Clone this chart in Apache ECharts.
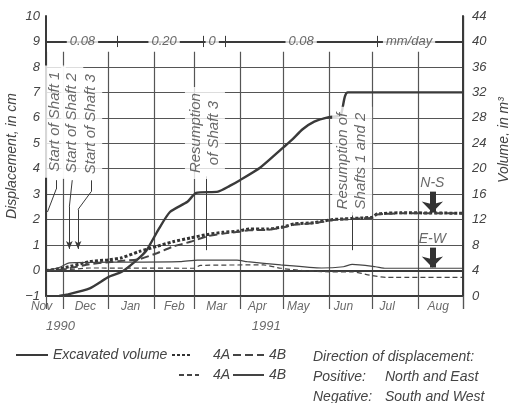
<!DOCTYPE html>
<html>
<head>
<meta charset="utf-8">
<style>
  html, body { margin: 0; padding: 0; background: #fff; }
  #chart { width: 509px; height: 403px; }
</style>
<script src="https://cdn.jsdelivr.net/npm/echarts@6/dist/echarts.min.js"></script>
</head>
<body>
<div id="chart"></div>
<script>
// excavated volume in m3 (right axis)
var volumeDates = ["1990-11-28", "1990-12-03", "1990-12-19", "1991-01-01", "1991-01-10", "1991-01-20", "1991-01-27",
  "1991-02-04", "1991-02-12", "1991-02-24", "1991-03-02", "1991-03-17", "1991-03-25", "1991-04-01", "1991-04-15",
  "1991-05-01", "1991-05-07", "1991-05-14", "1991-05-22", "1991-06-01", "1991-06-09", "1991-06-14", "1991-09-01"];
var volumeValues = [0, 0.2, 1.2, 3.0, 3.8, 5.6, 7.2, 10.4, 13.2, 14.8, 16.2, 16.4, 17.3, 18.2, 20.2,
  23.4, 24.6, 26.2, 27.4, 28.1, 28.4, 32.0, 32.0];

// displacement N-S, cm
var nsDates = ["1990-11-19", "1990-12-01", "1990-12-19", "1991-01-01", "1991-01-10", "1991-01-22", "1991-02-03",
  "1991-02-14", "1991-02-26", "1991-03-10", "1991-03-20", "1991-03-31", "1991-04-07", "1991-04-20", "1991-05-01",
  "1991-05-08", "1991-05-22", "1991-06-03", "1991-06-25", "1991-07-01", "1991-07-04", "1991-07-20", "1991-09-01"];
var ns4A = [0, 0.1, 0.35, 0.42, 0.5, 0.75, 0.95, 1.13, 1.28, 1.42, 1.5, 1.55, 1.63, 1.63, 1.72,
  1.83, 1.88, 2.0, 2.07, 2.1, 2.22, 2.27, 2.25];
var ns4B = [0, 0.05, 0.25, 0.33, 0.38, 0.45, 0.68, 0.94, 1.13, 1.35, 1.45, 1.52, 1.58, 1.6, 1.7,
  1.8, 1.86, 1.98, 2.05, 2.08, 2.2, 2.25, 2.25];

// displacement E-W, cm
var ew4ADates = ["1990-11-19", "1990-12-01", "1990-12-19", "1991-02-28", "1991-03-05", "1991-04-17", "1991-04-29",
  "1991-05-14", "1991-06-02", "1991-06-17", "1991-06-29", "1991-07-10", "1991-09-01"];
var ew4A = [0, 0.02, 0.1, 0.09, 0.2, 0.22, 0.09, 0.0, -0.05, -0.05, -0.18, -0.27, -0.27];
var ew4BDates = ["1990-11-19", "1990-11-28", "1990-12-05", "1991-01-15", "1991-02-19", "1991-03-03", "1991-03-30",
  "1991-04-06", "1991-04-29", "1991-05-27", "1991-06-11", "1991-06-17", "1991-07-03", "1991-07-10", "1991-09-01"];
var ew4B = [0, 0.12, 0.3, 0.33, 0.35, 0.41, 0.41, 0.35, 0.22, 0.1, 0.15, 0.24, 0.15, 0.09, 0.09];

// axis text
var monthNames = ["Nov", "Dec", "Jan", "Feb", "Mar", "Apr", "May", "Jun", "Jul", "Aug"];
var monthLabelDates = ["1990-11-16", "1990-12-16", "1991-01-16", "1991-02-15", "1991-03-16",
  "1991-04-13", "1991-05-11", "1991-06-11", "1991-07-11", "1991-08-15"];
var yearNames = ["1990", "1991"];
var yearDates = ["1990-11-29", "1991-04-19"];

// advance rate band along the 9 cm line
var rateTexts = ["0.08", "0.20", "0", "0.08", "mm/day"];
var rateDates = ["1990-12-14", "1991-02-08", "1991-03-13", "1991-05-13", "1991-07-26"];
var rateBreaks = ["1991-01-07", "1991-03-07", "1991-03-22", "1991-07-04"];

// notes
var noteTexts = ["Start of Shaft 1", "Start of Shaft 2", "Start of Shaft 3", "Resumption\nof Shaft 3", "Resumption of\nShafts 1 and 2"];
var noteDates = ["1990-11-25", "1990-12-07", "1990-12-20", "1991-03-08", "1991-06-17"];
var noteValues = [5.85, 5.8, 5.75, 5.4, 4.3];
var leaders = [
  ["1990-11-26", 3.55, "1990-11-26", 3.2, 0], ["1990-11-26", 3.2, "1990-11-20", 2.3, 0],
  ["1990-12-07", 3.55, "1990-12-05", 2.5, 0], ["1990-12-05", 2.5, "1990-12-05", 0.85, 1],
  ["1990-12-20", 3.55, "1990-12-20", 3.1, 0], ["1990-12-20", 3.1, "1990-12-11", 2.4, 0], ["1990-12-11", 2.4, "1990-12-11", 0.85, 1],
  ["1991-03-09", 3.7, "1991-03-09", 0.8, 0],
  ["1991-06-17", 2.3, "1991-06-17", 0.8, 0]
];
var dirTexts = ["N-S", "E-W"];
var dirDates = ["1991-08-11", "1991-08-11"];
var dirValues = [3.45, 1.25];
var dirArrows = [["1991-08-11", 3.1, 2.28], ["1991-08-11", 0.9, 0.12]];

var FONT = "'Liberation Sans', Arial, sans-serif";
var INK = "#3a3a3a";
var TEXT = "#444";

function t(s) {
  var p = s.split("-");
  return new Date(+p[0], p[1] - 1, +p[2]).getTime();
}
function pairs(dates, vals) {
  return dates.map(function (d, i) { return [t(d), vals[i]]; });
}
function seg(d1, v1, d2, v2, arrow) {
  return [
    { coord: [t(d1), v1], symbol: "none" },
    { coord: [t(d2), v2], symbol: arrow ? "arrow" : "none", symbolSize: arrow ? [5, 8] : 0 }
  ];
}
function txt(size) {
  return { fontFamily: FONT, fontStyle: "italic", fontWeight: "normal", fontSize: size, color: TEXT };
}

var X_MIN = t("1990-11-19");
var X_MAX = t("1991-09-01");
var DAY = 86400000;

var chart = echarts.init(document.getElementById("chart"));

function lineSeries(name, data, yIndex, style) {
  return {
    name: name,
    type: "line",
    yAxisIndex: yIndex,
    data: data,
    symbol: "none",
    smooth: 0.2,
    animation: false,
    z: 3,
    itemStyle: { color: style.color },
    lineStyle: style
  };
}

function legendItem(name, left, top, w, pad) {
  return {
    data: [name],
    left: left,
    top: top,
    padding: 0,
    itemWidth: w,
    itemHeight: 14,
    selectedMode: false,
    itemStyle: { opacity: 0 },
    formatter: function (n) { return n === "Excavated volume" ? n : n.split(" ")[0]; },
    textStyle: Object.assign(txt(14), { padding: [0, 0, 0, pad] })
  };
}

function labelSeries(name, data, label, z) {
  return {
    name: name,
    type: "scatter",
    symbolSize: 0,
    silent: true,
    clip: false,
    z: z,
    data: data,
    label: Object.assign({ show: true, formatter: "{b}" }, label)
  };
}

function markSeries(name, z, width, lines, area) {
  var s = {
    name: name,
    type: "scatter",
    symbolSize: 0,
    silent: true,
    z: z,
    data: [],
    markLine: {
      silent: true,
      symbol: ["none", "none"],
      label: { show: false },
      lineStyle: { color: INK, width: width, type: "solid" },
      data: lines
    }
  };
  if (area) {
    s.markArea = { silent: true, itemStyle: { color: "#fff", opacity: 1 }, data: area };
  }
  return s;
}

function timeAxis(extra) {
  return Object.assign({
    type: "time",
    min: X_MIN,
    max: X_MAX,
    splitNumber: 10,
    minInterval: 28 * DAY,
    maxInterval: 31 * DAY,
    axisLabel: { show: false }
  }, extra);
}

chart.setOption({
  animation: false,
  grid: { left: 46, right: 46, top: 16, bottom: 107, containLabel: false, outerBoundsMode: "none" },
  title: {
    left: 313,
    top: 347,
    padding: 0,
    text: "{h|Direction of displacement:}\n{a|Positive:}{b|North and East}\n{a|Negative:}{b|South and West}",
    textStyle: Object.assign(txt(14), {
      lineHeight: 20,
      rich: {
        h: txt(14),
        a: Object.assign(txt(14), { width: 72 }),
        b: txt(14)
      }
    })
  },
  legend: [
    legendItem("Excavated volume", 15, 348, 32, 0),
    legendItem("4A N-S", 171, 348, 20, 16),
    legendItem("4B N-S", 232, 348, 31, 0),
    legendItem("4A E-W", 178, 368, 20, 9),
    legendItem("4B E-W", 232, 368, 31, 0)
  ],
  xAxis: [
    timeAxis({
      axisLine: { show: true, lineStyle: { color: INK, width: 2 } },
      axisTick: { show: false },
      splitLine: { show: true, lineStyle: { color: "#555", width: 1.2 } }
    }),
    timeAxis({
      position: "top",
      z: 5,
      axisLine: { show: true, lineStyle: { color: INK, width: 2 } },
      axisTick: { show: true, inside: true, length: 13, lineStyle: { color: "#555", width: 1.2 } },
      splitLine: { show: false }
    })
  ],
  yAxis: [
    {
      type: "value",
      position: "left",
      min: -1,
      max: 10,
      interval: 1,
      z: 5,
      name: "Displacement, in cm",
      nameLocation: "middle",
      nameRotate: 90,
      nameGap: 27,
      nameMoveOverlap: false,
      nameTextStyle: txt(14),
      axisLine: { show: true, lineStyle: { color: INK, width: 2 } },
      axisTick: { show: false },
      axisLabel: Object.assign(txt(13), {
        margin: 6,
        formatter: function (v) { return v < 0 ? "\u2212" + Math.abs(v) : String(v); }
      }),
      splitLine: { show: false }
    },
    {
      type: "value",
      position: "right",
      min: 0,
      max: 44,
      interval: 4,
      z: 5,
      name: "Volume, in m\u00b3",
      nameLocation: "middle",
      nameRotate: 90,
      nameGap: 27,
      nameTextStyle: Object.assign(txt(14), { padding: [0, 0, 0, 32] }),
      axisLine: { show: true, lineStyle: { color: INK, width: 2 } },
      axisTick: { show: false },
      axisLabel: Object.assign(txt(13), { margin: 9 }),
      splitLine: { show: false }
    },
    {
      type: "value",
      position: "left",
      min: -1,
      max: 10,
      interval: 1,
      axisLine: { show: false },
      axisTick: { show: false },
      axisLabel: { show: false },
      splitLine: { show: true, lineStyle: { color: "#555", width: 1.2 } }
    }
  ],
  series: [
    lineSeries("Excavated volume", pairs(volumeDates, volumeValues), 1, { color: INK, width: 2.4 }),
    lineSeries("4A N-S", pairs(nsDates, ns4A), 0, { color: "#333", width: 3, type: [3, 2] }),
    lineSeries("4B N-S", pairs(nsDates, ns4B), 0, { color: "#444", width: 2, type: [8, 4] }),
    lineSeries("4A E-W", pairs(ew4ADates, ew4A), 0, { color: "#444", width: 1.2, type: [5, 3] }),
    lineSeries("4B E-W", pairs(ew4BDates, ew4B), 0, { color: "#444", width: 1.2 }),
    // white strip under the top ticks, rate breaks and leaders
    markSeries("frame", 2, 1,
      rateBreaks.map(function (d) { return seg(d, 8.78, d, 9.22); })
        .concat(leaders.map(function (l) { return seg(l[0], l[1], l[2], l[3], l[4]); })),
      [[{ yAxis: 8.6 }, { yAxis: 10 }]]),
    markSeries("rateLine", 3, 2, [[{ coord: [X_MIN, 9] }, { coord: [X_MAX, 9] }]]),
    {
      name: "arrows",
      type: "scatter",
      symbolSize: 0,
      silent: true,
      z: 4,
      data: [],
      markLine: {
        silent: true,
        label: { show: false },
        lineStyle: { color: "#333", width: 6, type: "solid" },
        data: dirArrows.map(function (a) {
          return [
            { coord: [t(a[0]), a[1]], symbol: "none" },
            { coord: [t(a[0]), a[2]], symbol: "arrow", symbolSize: [16, 11] }
          ];
        })
      }
    },
    labelSeries("rate",
      rateDates.map(function (d, i) { return { name: rateTexts[i], value: [t(d), 9] }; }),
      Object.assign(txt(13), { position: "inside", backgroundColor: "#fff", padding: [1, 3] }), 6),
    labelSeries("notes",
      noteTexts.map(function (s, i) { return { name: s, value: [t(noteDates[i]), noteValues[i]] }; }),
      Object.assign(txt(15), { position: "inside", rotate: 90, lineHeight: 18, backgroundColor: "#fff", padding: [2, 6] }), 6),
    labelSeries("directions",
      dirTexts.map(function (s, i) { return { name: s, value: [t(dirDates[i]), dirValues[i]] }; }),
      Object.assign(txt(14), { position: "inside" }), 6),
    labelSeries("months",
      monthNames.map(function (m, i) { return { name: m, value: [t(monthLabelDates[i]), -1] }; }),
      Object.assign(txt(12), { position: "bottom", distance: 5 }), 6),
    labelSeries("years",
      yearNames.map(function (y, i) { return { name: y, value: [t(yearDates[i]), -1] }; }),
      Object.assign(txt(13), { position: "bottom", distance: 24 }), 6)
  ]
});
</script>
</body>
</html>
